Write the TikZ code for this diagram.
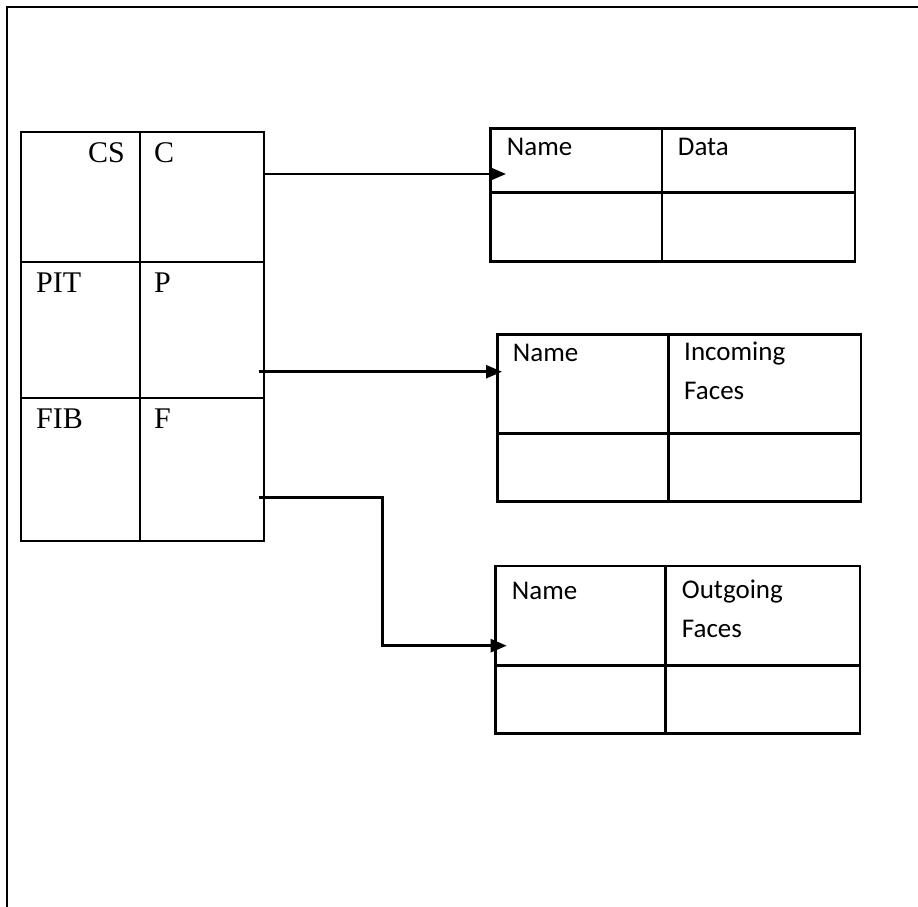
\documentclass[tikz,border=0pt]{standalone}
\usepackage{fontspec}
\setmainfont{Liberation Serif}
\newfontfamily\calib{Carlito}
\usetikzlibrary{arrows.meta}
\begin{document}
\begin{tikzpicture}[x=1pt,y=-1pt,
  tbl/.style={draw, line width=2.6pt, anchor=north west, inner sep=0pt, outer sep=0pt},
  gridline/.style={line width=2.6pt},
  lbl/.style={inner sep=0pt, anchor=base west, font=\fontsize{27}{39}\selectfont\calib, align=left},
  ser/.style={inner sep=0pt, font=\fontsize{30}{36}\selectfont},
  conn/.style={line width=2.6pt, -{Triangle[length=16pt,width=13pt]}}]
\useasboundingbox (0,0) rectangle (918,907);
% frame
\draw[line width=2.7pt] (918,7) -- (7,7) -- (7,907);

% main table
\node[tbl, minimum width=243pt, minimum height=409pt] (main) at (21,132) {};
\draw[gridline] (140,132) -- (140,541);
\draw[gridline] (21,262) -- (264,262);
\draw[gridline] (21,398) -- (264,398);
\node[ser, anchor=base east] (cs) at (125,162) {CS};
\node[ser, anchor=base west] (c) at (154,162) {C};
\node[ser, anchor=base west] (pit) at (36,292) {PIT};
\node[ser, anchor=base west] (p) at (154,292) {P};
\node[ser, anchor=base west] (fib) at (36,428) {FIB};
\node[ser, anchor=base west] (f) at (154,428) {F};

% table 1
\node[tbl, minimum width=364.3pt, minimum height=133.4pt] (t1) at (490.7,128.3) {};
\draw[gridline] (662,128.3) -- (662,261.7);
\draw[gridline] (490.7,192.7) -- (855,192.7);
\node[lbl] (t1n) at (506.7,155) {Name};
\node[lbl] (t1d) at (677.7,155) {Data};

% table 2
\node[tbl, minimum width=363.7pt, minimum height=167.4pt] (t2) at (497.3,334.3) {};
\draw[gridline] (668.7,334.3) -- (668.7,501.7);
\draw[gridline] (497.3,433.7) -- (861,433.7);
\node[lbl] (t2n) at (512.7,361) {Name};
\node[lbl, anchor=north west] (t2d) at (684,342) {Incoming\\Faces};

% table 3
\node[tbl, minimum width=364.3pt, minimum height=167.3pt] (t3) at (495.7,566) {};
\draw[gridline] (665.7,566) -- (665.7,733.3);
\draw[gridline] (495.7,665.7) -- (860,665.7);
\node[lbl] (t3n) at (511.7,599) {Name};
\node[lbl, anchor=north west] (t3d) at (681.7,580) {Outgoing\\Faces};

% connectors
\coordinate (a1s) at (264,174);
\coordinate (a1e) at (506,174);
\coordinate (a2s) at (258.7,371.7);
\coordinate (a2e) at (502,371.7);
\coordinate (a3s) at (258.7,497.7);
\coordinate (a3m) at (382.7,645.7);
\coordinate (a3e) at (506.7,645.7);
\draw[conn] (a1s) -- (a1e);
\draw[conn] (a2s) -- (a2e);
\draw[conn] (a3s) -| (a3m) -- (a3e);
\end{tikzpicture}
\end{document}
